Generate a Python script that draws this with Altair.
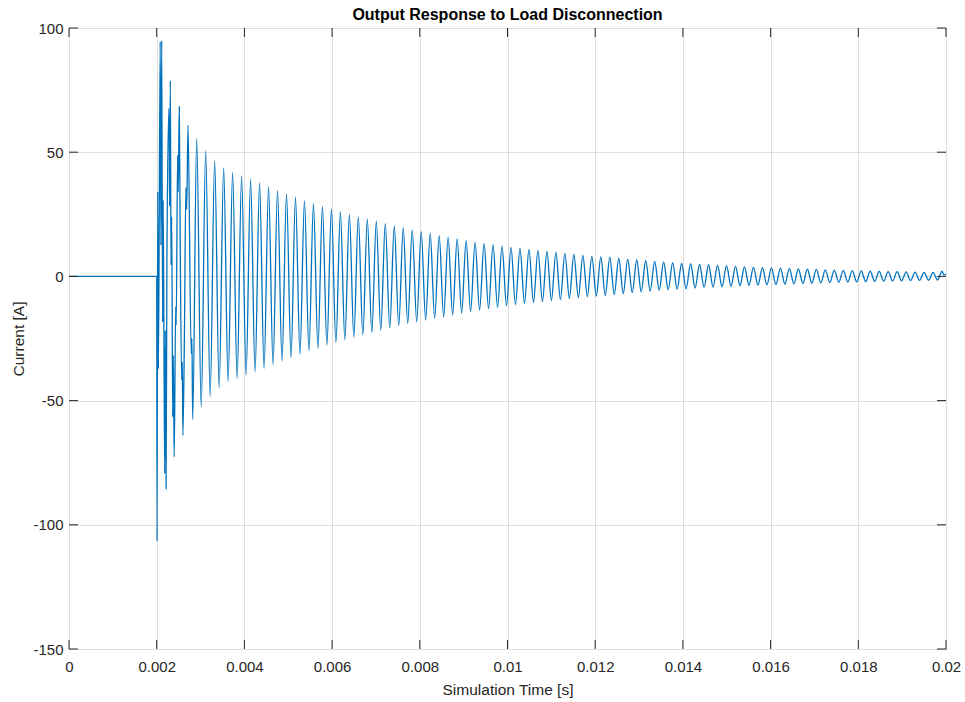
import altair as alt
import pandas as pd

TITLE = "Output Response to Load Disconnection"
X_TITLE = "Simulation Time [s]"
Y_TITLE = "Current [A]"

x_ticks = [0, 0.002, 0.004, 0.006, 0.008, 0.01, 0.012, 0.014, 0.016, 0.018, 0.02]
y_ticks = [-150, -100, -50, 0, 50, 100]

# flat part + chaotic transient right after the disconnection (time in ms)
trans_t_ms = [0.0, 2.0, 2.009, 2.023, 2.039, 2.080, 2.096, 2.114, 2.135, 2.148,
              2.182, 2.196, 2.214, 2.233, 2.278, 2.294, 2.312, 2.326, 2.342, 2.365,
              2.379, 2.399, 2.433, 2.445, 2.477, 2.490, 2.515, 2.534, 2.570, 2.584,
              2.598, 2.632, 2.666, 2.684, 2.714, 2.787, 2.803, 2.821]
trans_v = [0, 0, -106.6, 34.1, -37.2, 94.5, 12.6, 94.9, -18.4, 30.7,
           -79.4, -21.7, -85.5, 5.9, 67.6, 28.2, 78.8, 4.6, 24.0, -56.6,
           -31.8, -72.7, -12.3, -19.5, 48.8, 34.0, 68.3, 19.3, -41.8, -34.5,
           -64.0, -23.7, 35.7, 27.0, 60.9, -31.0, -25.0, -57.6]

# decaying ringing: positive peaks (ms, A)
peak_t_ms = [2.912, 3.117, 3.322, 3.527, 3.731, 3.936, 4.141, 4.346, 4.551, 4.755,
             4.960, 5.165, 5.370, 5.575, 5.779, 5.984, 6.189, 6.394, 6.598, 6.803,
             7.008, 7.213, 7.418, 7.622, 7.827, 8.032, 8.237, 8.442, 8.646, 8.851,
             9.056, 9.261, 9.466, 9.670, 9.875, 10.080, 10.285, 10.489, 10.694, 10.899,
             11.104, 11.309, 11.513, 11.718, 11.923, 12.128, 12.333, 12.537, 12.742, 12.947,
             13.152, 13.357, 13.561, 13.766, 13.971, 14.176, 14.380, 14.585, 14.790, 14.995,
             15.200, 15.404, 15.609, 15.814, 16.019, 16.224, 16.428, 16.633, 16.838, 17.043,
             17.248, 17.452, 17.657, 17.862, 18.067, 18.272, 18.476, 18.681, 18.886, 19.091,
             19.295, 19.500, 19.705]
peak_v = [55.6, 50.6, 46.4, 43.7, 41.9, 40.5, 39.2,
          37.6, 36.0, 34.5, 33.2, 31.9, 30.5, 29.4, 28.2, 27.2, 26.1, 25.0, 23.9, 23.0,
          22.2, 21.2, 20.3, 19.5, 18.7, 18.0,
          17.3, 16.4, 15.7, 15.1, 14.4, 13.8, 13.3, 12.8, 12.2, 11.7, 11.3, 10.9, 10.5,
          10.1, 9.7, 9.3, 8.9, 8.5, 8.1,
          7.9, 7.7, 7.3, 6.9, 6.6, 6.3, 6.0, 5.8, 5.5, 5.2, 5.1, 4.8, 4.7, 4.4, 4.3,
          4.0, 3.8, 3.6, 3.5,
          3.45, 3.3, 3.15, 3.0, 2.9, 2.8, 2.65, 2.55, 2.45, 2.35, 2.25, 2.15, 2.05,
          1.95, 1.9, 1.8, 1.7, 1.65, 1.6]

# negative troughs (ms, A)
trough_t_ms = [3.015, 3.219, 3.424, 3.629, 3.834, 4.039, 4.243, 4.448, 4.653, 4.858,
               5.063, 5.267, 5.472, 5.677, 5.882, 6.087, 6.291, 6.496, 6.701, 6.906,
               7.110, 7.315, 7.520, 7.725, 7.930, 8.134, 8.339, 8.544, 8.749, 8.954,
               9.158, 9.363, 9.568, 9.773, 9.978, 10.182, 10.387, 10.592, 10.797, 11.001,
               11.206, 11.411, 11.616, 11.821, 12.025, 12.230, 12.435, 12.640, 12.845, 13.049,
               13.254, 13.459, 13.664, 13.869, 14.073, 14.278, 14.483, 14.688, 14.892, 15.097,
               15.302, 15.507, 15.712, 15.916, 16.121, 16.326, 16.531, 16.736, 16.940, 17.145,
               17.350, 17.555, 17.760, 17.964, 18.169, 18.374, 18.579, 18.783, 18.988, 19.193,
               19.398, 19.603, 19.807]
trough_v = [-52.7, -48.3, -44.8, -42.4, -41.1, -39.7, -38.4,
            -37.1, -35.5, -34.0, -32.7, -31.3, -30.0, -28.9, -27.7, -26.6, -25.5, -24.5,
            -23.5, -22.6, -21.6, -20.7, -19.8, -19.0, -18.3, -17.6,
            -16.9, -16.3, -15.6, -14.8, -14.2, -13.6, -13.0, -12.5, -11.9, -11.4, -10.9,
            -10.5, -10.1, -9.7, -9.3, -8.9, -8.5, -8.2, -7.9,
            -7.7, -7.3, -6.9, -6.5, -6.2, -5.9, -5.6, -5.4, -5.1, -5.0, -4.7, -4.4, -4.3,
            -4.2, -4.0, -3.8, -3.6, -3.5, -3.4,
            -3.25, -3.1, -3.0, -2.85, -2.75, -2.6, -2.5, -2.4, -2.3, -2.2, -2.1, -2.0,
            -1.9, -1.85, -1.75, -1.7, -1.6, -1.55, -1.5]

# last few samples at the right edge
end_t_ms = [19.861, 19.907, 19.952, 20.0]
end_v = [0.4, 2.1, 0.6, 1.0]

assert len(peak_t_ms) == len(peak_v) == len(trough_t_ms) == len(trough_v)

rows = []
for ts, vs in ((trans_t_ms, trans_v), (peak_t_ms, peak_v),
               (trough_t_ms, trough_v), (end_t_ms, end_v)):
    rows.extend(zip(ts, vs))
df = pd.DataFrame(rows, columns=["t_ms", "v"]).sort_values("t_ms").reset_index(drop=True)
df["t"] = df["t_ms"] / 1000.0
df["i"] = range(len(df))

W, H = 877, 621
LEFT, TOP = 69, 28
FRAME = "#262626"
FONT = "Liberation Sans"
TICK = 9

xscale = alt.Scale(domain=[0, 0.02], nice=False, zero=False)
yscale = alt.Scale(domain=[-150, 100], nice=False, zero=False)

X_AXIS = alt.Axis(values=x_ticks, format="~f", title=X_TITLE,
                  labelFlush=False, labelPadding=22.5, labelBaseline="alphabetic",
                  titleY=45, titleBaseline="alphabetic")
Y_AXIS = alt.Axis(values=y_ticks, labelExpr="'' + datum.value", title=Y_TITLE,
                  labelPadding=6, titleX=-46, titleBaseline="alphabetic",
                  titleAngle=270)

line = alt.Chart(df).mark_line(
    color="#0072BD", strokeWidth=1.3, interpolate="monotone", clip=True
).encode(
    x=alt.X("t:Q", scale=xscale, axis=X_AXIS),
    y=alt.Y("v:Q", scale=yscale, axis=Y_AXIS),
    order="i:Q",
)

yt = pd.DataFrame({"v": y_ticks})
xt = pd.DataFrame({"t": x_ticks})

left_ticks = alt.Chart(yt).mark_rule(color=FRAME, strokeWidth=1).encode(
    y=alt.Y("v:Q", scale=yscale, axis=Y_AXIS), x=alt.value(0), x2=alt.value(TICK))
right_ticks = alt.Chart(yt).mark_rule(color=FRAME, strokeWidth=1).encode(
    y=alt.Y("v:Q", scale=yscale, axis=Y_AXIS), x=alt.value(W - TICK), x2=alt.value(W))
bottom_ticks = alt.Chart(xt).mark_rule(color=FRAME, strokeWidth=1).encode(
    x=alt.X("t:Q", scale=xscale, axis=X_AXIS), y=alt.value(H - TICK), y2=alt.value(H))
top_ticks = alt.Chart(xt).mark_rule(color=FRAME, strokeWidth=1).encode(
    x=alt.X("t:Q", scale=xscale, axis=X_AXIS), y=alt.value(0), y2=alt.value(TICK))

title_df = pd.DataFrame({"label": [TITLE]})
title_text = alt.Chart(title_df).mark_text(
    font=FONT, fontSize=16, fontWeight="bold", color="#000000",
    align="center", baseline="alphabetic"
).encode(text="label:N", x=alt.value(W / 2), y=alt.value(-8))

chart = alt.layer(line, left_ticks, right_ticks, bottom_ticks, top_ticks, title_text).properties(
    width=W, height=H,
    padding={"left": LEFT, "top": TOP, "right": 965 - LEFT - W, "bottom": 702 - TOP - H},
    autosize=alt.AutoSizeParams(type="none"),
).configure_view(
    stroke=FRAME, strokeWidth=1
).configure_axis(
    labelFont=FONT, labelFontSize=15, labelColor=FRAME,
    titleFont=FONT, titleFontSize=15.5, titleColor=FRAME, titleFontWeight="normal",
    domain=False, ticks=False, tickSize=0,
    grid=True, gridColor="#dedede", gridWidth=1, gridOpacity=1,
)

chart.save("out.html", embed_options={"renderer": "svg", "actions": False})
